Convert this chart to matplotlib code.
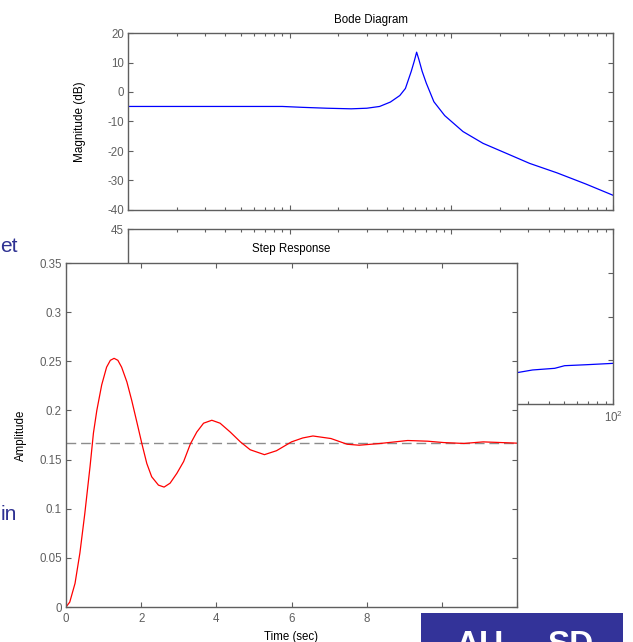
import matplotlib
matplotlib.use('Agg')
import matplotlib.pyplot as plt
from matplotlib.patches import Rectangle
from matplotlib.ticker import LogLocator, NullFormatter, FuncFormatter
import numpy as np

plt.rcParams['font.family'] = ['Liberation Sans', 'DejaVu Sans']
plt.rcParams['axes.unicode_minus'] = False

# values
bode_w = [0.1, 0.3, 0.9, 1.2, 1.7, 2.4, 3.0, 3.6, 4.2, 4.8, 5.2, 5.65, 5.9, 6.1,
          6.3, 6.6, 7.0, 7.8, 9.1, 11.8, 15.7, 21.9, 30.5, 45.0, 68.0, 100.0]
bode_mag = [-4.9, -4.9, -4.9, -5.2, -5.5, -5.7, -5.5, -4.9, -3.4, -1.2, 1.2, 7.0, 10.5, 13.5,
            11.0, 7.0, 3.0, -3.3, -8.0, -13.4, -17.4, -20.8, -24.2, -27.4, -31.2, -35.0]
phase_w = [22.0, 25.4, 31.8, 43.6, 50.2, 68.4, 100.0]
phase_deg = [-103.5, -102.8, -100.0, -98.3, -95.6, -94.6, -93.2]

step_t = [0, 0.1, 0.24, 0.37, 0.5, 0.64, 0.73, 0.82, 0.95, 1.08, 1.18, 1.28, 1.38, 1.48,
          1.62, 1.75, 1.88, 2.02, 2.15, 2.28, 2.46, 2.61, 2.77, 2.95, 3.13, 3.31, 3.48,
          3.66, 3.88, 4.1, 4.37, 4.64, 4.9, 5.28, 5.6, 6.0, 6.3, 6.57, 7.05, 7.48, 7.8,
          8.34, 9.09, 9.62, 10.05, 10.59, 11.1, 12.0]
step_amp = [0, 0.005, 0.024, 0.055, 0.095, 0.143, 0.177, 0.2, 0.226, 0.244, 0.251, 0.253,
            0.251, 0.244, 0.229, 0.21, 0.189, 0.166, 0.146, 0.1325, 0.124, 0.122, 0.126,
            0.136, 0.148, 0.166, 0.178, 0.187, 0.190, 0.187, 0.178, 0.168, 0.16, 0.155,
            0.159, 0.168, 0.172, 0.174, 0.1714, 0.1656, 0.1646, 0.1663, 0.1694, 0.1687,
            0.1673, 0.1664, 0.168, 0.1667]
step_final = 0.1667

W, H = 633, 642
GRAY = '#5f5f5f'
FS = 8.3


def px_box(l, t, r, b):
    # pixel box (from top-left) -> figure fraction rect
    return [l / W, 1 - b / H, (r - l) / W, (b - t) / H]


def matlab_style(ax):
    for s in ax.spines.values():
        s.set_color(GRAY)
        s.set_linewidth(1.0)
    ax.tick_params(which='both', direction='in', top=True, right=True,
                   color=GRAY, labelcolor=GRAY, labelsize=FS, width=0.8)
    ax.tick_params(which='major', length=3.6)
    ax.tick_params(which='minor', length=2)
    ax.tick_params(axis='y', pad=3)
    ax.tick_params(axis='x', pad=4.3)


def log_freq_axis(ax):
    ax.set_xscale('log')
    ax.set_xlim(0.1, 100)
    ax.xaxis.set_major_locator(LogLocator(base=10, numticks=20))
    ax.xaxis.set_minor_locator(LogLocator(base=10, subs=np.arange(2, 10), numticks=20))
    ax.xaxis.set_minor_formatter(NullFormatter())


fig = plt.figure(figsize=(W / 100, H / 100), dpi=100, facecolor='white')

# Bode magnitude
ax_mag = fig.add_axes(px_box(128, 33, 613, 210), zorder=1)
ax_mag.plot(bode_w, bode_mag, color='#0000ff', lw=0.9)
log_freq_axis(ax_mag)
ax_mag.xaxis.set_major_formatter(NullFormatter())
ax_mag.set_ylim(-40, 20)
ax_mag.set_yticks(np.arange(-40, 21, 10))
ax_mag.set_ylabel('Magnitude (dB)', fontsize=8.5)
ax_mag.yaxis.set_label_coords(-0.087, 0.5)
ax_mag.set_title('Bode Diagram', fontsize=FS, pad=7.2)
matlab_style(ax_mag)

# Bode phase (mostly hidden behind the step window)
ax_ph = fig.add_axes(px_box(128, 229, 613, 404), zorder=1)
ax_ph.plot(phase_w, phase_deg, color='#0000ff', lw=0.9)
log_freq_axis(ax_ph)
ax_ph.set_ylim(-135, 45)
ax_ph.set_yticks([-135, -90, -45, 0, 45])
matlab_style(ax_ph)

# Step response window on top
ax_st = fig.add_axes(px_box(66, 263, 517, 607), zorder=3)
ax_st.set_facecolor('white')
ax_st.axhline(step_final, color='#8c8c8c', lw=1.0, linestyle=(0, (7, 3.5)))
ax_st.plot(step_t, step_amp, color='#ff0000', lw=0.9)
ax_st.set_xlim(0, 12)
ax_st.set_ylim(0, 0.35)
ax_st.set_xticks(np.arange(0, 13, 2))
ax_st.set_yticks(np.round(np.arange(0, 0.36, 0.05), 2))
ax_st.yaxis.set_major_formatter(FuncFormatter(lambda v, p: f'{v:g}'))
ax_st.set_title('Step Response', fontsize=FS, pad=8)
ax_st.set_ylabel('Amplitude', fontsize=FS)
ax_st.yaxis.set_label_coords(-0.0865, 0.5)
ax_st.set_xlabel('Time (sec)', fontsize=FS)
ax_st.xaxis.set_label_coords(0.5, -0.07)
matlab_style(ax_st)

# slide fragments around the figures
slide_font = ['Liberation Sans Narrow', 'Liberation Sans', 'DejaVu Sans']
fig.text(0.5 / W, 1 - 252 / H, 'et', color='#2e3192', fontsize=15, family=slide_font,
         ha='left', va='baseline')
fig.text(0.5 / W, 1 - 520 / H, 'in', color='#2e3192', fontsize=15, family=slide_font,
         ha='left', va='baseline')

box = Rectangle((421 / W, 0), (623 - 421) / W, (642 - 613) / H, transform=fig.transFigure,
                facecolor='#333399', edgecolor='none', zorder=10)
fig.add_artist(box)
fig.text(455 / W, 1 - 654 / H, 'AU', color='white', fontsize=24, fontweight='bold',
         ha='left', va='baseline', zorder=11)
fig.text(593 / W, 1 - 654 / H, 'SD', color='white', fontsize=24, fontweight='bold',
         ha='right', va='baseline', zorder=11)

fig.savefig('out.png', dpi=100)
plt.close(fig)
